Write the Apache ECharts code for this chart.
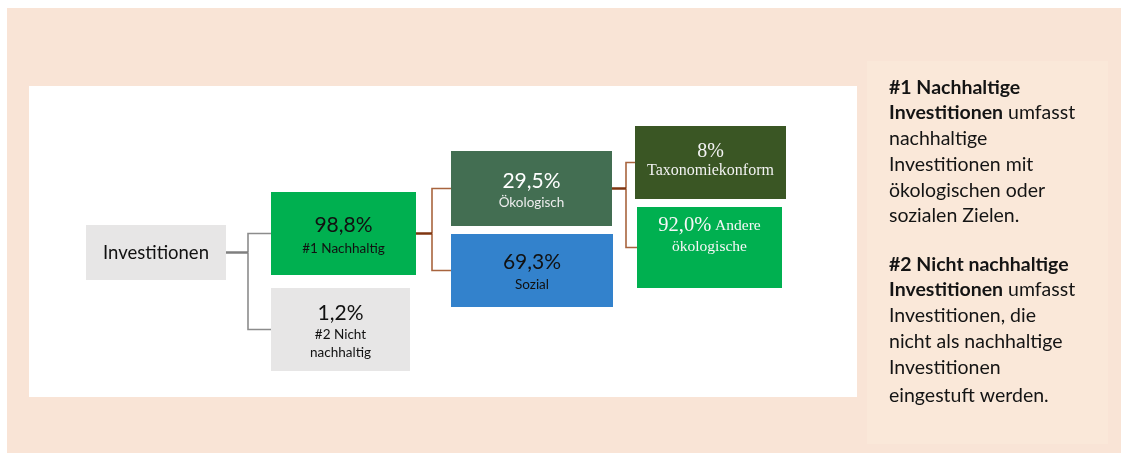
<!DOCTYPE html>
<html><head><meta charset="utf-8">
<script src="https://cdn.jsdelivr.net/npm/echarts@6/dist/echarts.min.js"></script>
<style>html,body{margin:0;padding:0;background:#fff}#c{width:1121px;height:453px}</style>
</head><body><div id="c"></div>
<script>
// ---- data ----
const names    = ['Investitionen', '#1 Nachhaltig', '#2 Nicht\nnachhaltig', 'Ökologisch', 'Sozial', 'Taxonomiekonform', 'Andere\nökologische'];
const values   = [null, 98.8, 1.2, 29.5, 69.3, 8, 92.0];
const decimals = [0, 1, 1, 1, 1, 0, 1];
const parents  = [-1, 0, 0, 1, 1, 3, 3];

const notes1 = [
  [['b', '#1 Nachhaltige']],
  [['b', 'Investitionen'], ['r', ' umfasst']],
  [['r', 'nachhaltige']],
  [['r', 'Investitionen mit']],
  [['r', 'ökologischen oder']],
  [['r', 'sozialen Zielen.']]
];
const notes2 = [
  [['b', '#2 Nicht nachhaltige']],
  [['b', 'Investitionen'], ['r', ' umfasst']],
  [['r', 'Investitionen, die']],
  [['r', 'nicht als nachhaltige']],
  [['r', 'Investitionen']],
  [['r', 'eingestuft werden.']]
];

// ---- layout / style (positions in the hidden axes' units) ----
const boxLayout = [
  {x: 86,  y: 225, w: 140, h: 55},
  {x: 271, y: 192, w: 145, h: 83},
  {x: 271, y: 288, w: 139, h: 83},
  {x: 451, y: 151, w: 161, h: 75},
  {x: 451, y: 234, w: 162, h: 73},
  {x: 635, y: 126, w: 151, h: 73},
  {x: 637, y: 207, w: 145, h: 81}
];
const elbowX = {0: 248, 1: 432, 3: 626};
const SANS = 'Lato, "Noto Sans", sans-serif';
const SERIF = '"Liberation Serif", "DejaVu Serif", serif';
const boxStyle = [
  {fill: '#E7E6E6', col: '#111', font: SANS, vs: 18.5, ns: 18.5, vlh: 22, nlh: 22, cy: 253, single: true},
  {fill: '#00B050', col: '#111', font: SANS, vs: 21, ns: 13.5, vlh: 24, nlh: 24, cy: 237},
  {fill: '#E7E6E6', col: '#111', font: SANS, vs: 21, ns: 13.5, vlh: 26, nlh: 18, cy: 331},
  {fill: '#436E52', col: '#FFFFFF', ncol: '#EDEDED', font: SANS, vs: 21, ns: 13.5, vlh: 22, nlh: 22, cy: 192},
  {fill: '#3382CC', col: '#111', font: SANS, vs: 21, ns: 13.5, vlh: 23, nlh: 23, cy: 273.5},
  {fill: '#3A5624', col: '#F2F2F2', font: SERIF, vs: 20, ns: 16, vlh: 19, nlh: 19, cy: 161.5},
  {fill: '#00B050', col: '#F7F7F7', font: SERIF, vs: 20.5, ns: 15.5, vlh: 21, nlh: 21, cy: 236.5, inline: true}
];
const notePos1 = [88, 113, 139, 165, 191, 216];
const notePos2 = [265, 290, 316, 342, 368, 396];

function fmt(v, d) { return v.toFixed(d).replace('.', ',') + '%'; }

function labelText(i) {
  const st = boxStyle[i];
  const parts = names[i].split('\n');
  if (st.single) return '{n|' + parts[0] + '}';
  const v = '{v|' + fmt(values[i], decimals[i]) + '}';
  if (st.inline) {
    return v + '{n| ' + parts[0] + '}\n' + parts.slice(1).map(p => '{n|' + p + '}').join('\n');
  }
  return v + '\n' + parts.map(p => '{n|' + p + '}').join('\n');
}

const chart = echarts.init(document.getElementById('c'), null, {renderer: 'canvas'});

function noteGraphics(lines, pos) {
  return lines.map((segs, k) => ({
    type: 'text', z: 5,
    style: {
      x: 889, y: pos[k],
      text: segs.map(s => '{' + s[0] + '|' + s[1] + '}').join(''),
      textVerticalAlign: 'middle', textAlign: 'left',
      rich: {
        b: {font: 'bold 19.5px ' + SANS, fill: '#141414'},
        r: {font: '19.5px ' + SANS, fill: '#141414'}
      }
    }
  }));
}

const option = {
  animation: false,
  grid: {left: 0, right: 0, top: 0, bottom: 0},
  xAxis: {type: 'value', min: 0, max: 1121, show: false},
  yAxis: {type: 'value', min: 0, max: 453, inverse: true, show: false},
  graphic: [
    {type: 'rect', z: -10, shape: {x: 7, y: 8, width: 1114, height: 445}, style: {fill: '#F9E4D6'}},
    {type: 'rect', z: -9, shape: {x: 29, y: 86, width: 828, height: 311}, style: {fill: '#FFFFFF'}},
    {type: 'rect', z: -9, shape: {x: 867, y: 61, width: 241, height: 383}, style: {fill: '#FAE8D9'}}
  ].concat(noteGraphics(notes1, notePos1), noteGraphics(notes2, notePos2)),
  series: [
    {
      type: 'custom', z: 3,
      data: parents.map((p, i) => [i, p]).filter(d => d[1] >= 0),
      renderItem: function (params, api) {
        const c = api.value(0), p = api.value(1);
        const pb = boxLayout[p], cb = boxLayout[c];
        const pcy = pb.y + pb.h / 2, ccy = cb.y + cb.h / 2;
        const ex = elbowX[p];
        const a = api.coord([pb.x + pb.w, pcy]);
        const e1 = api.coord([ex, pcy]);
        const e2 = api.coord([ex, ccy]);
        const b = api.coord([cb.x, ccy]);
        const grey = p === 0;
        return {
          type: 'group',
          children: [
            {type: 'polyline', shape: {points: [e1, e2, b]},
             style: {stroke: grey ? '#8C8C8C' : '#A8643E', lineWidth: 1.6, fill: null}},
            {type: 'line', shape: {x1: a[0], y1: a[1], x2: e1[0], y2: e1[1]},
             style: {stroke: grey ? '#7F7F7F' : '#7E3510', lineWidth: 2}}
          ]
        };
      }
    },
    {
      type: 'custom', z: 4,
      data: names.map((n, i) => [i]),
      renderItem: function (params, api) {
        const i = api.value(0);
        const bl = boxLayout[i], st = boxStyle[i];
        const tl = api.coord([bl.x, bl.y]);
        const br = api.coord([bl.x + bl.w, bl.y + bl.h]);
        const tc = api.coord([bl.x + bl.w / 2, st.cy]);
        return {
          type: 'group',
          children: [
            {type: 'rect', shape: {x: tl[0], y: tl[1], width: br[0] - tl[0], height: br[1] - tl[1]},
             style: {fill: st.fill}},
            {type: 'text', z2: 10,
             style: {
               x: tc[0], y: tc[1], text: labelText(i),
               textAlign: 'center', textVerticalAlign: 'middle',
               rich: {
                 v: {font: st.vs + 'px ' + st.font, fill: st.col, lineHeight: st.vlh},
                 n: {font: st.ns + 'px ' + st.font, fill: st.ncol || st.col, lineHeight: st.nlh}
               }
             }}
          ]
        };
      }
    }
  ]
};
chart.setOption(option);
</script>
</body></html>
